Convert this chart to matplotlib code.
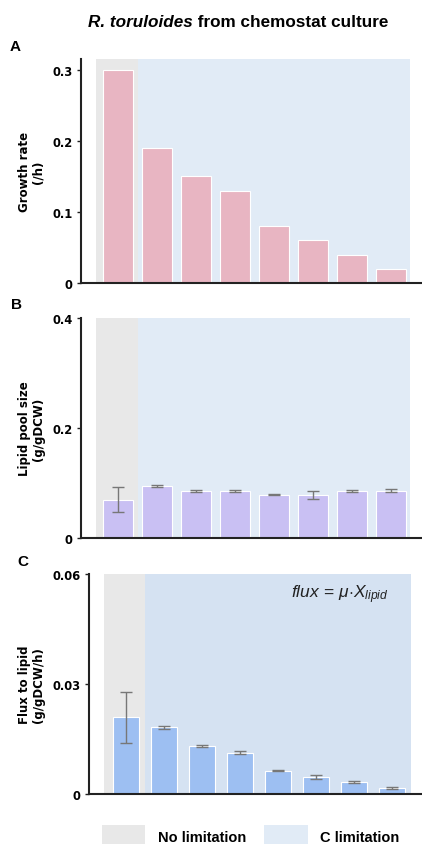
import matplotlib
matplotlib.use("Agg")
import matplotlib.pyplot as plt
from matplotlib import patches
import numpy as np

# data
conditions = np.arange(8)
growth_rate = [0.30, 0.19, 0.15, 0.13, 0.08, 0.06, 0.04, 0.02]
lipid_pool = [0.070, 0.095, 0.086, 0.085, 0.079, 0.078, 0.086, 0.086]
lipid_pool_err = [0.023, 0.002, 0.002, 0.002, 0.001, 0.0075, 0.002, 0.003]
lipid_flux = [0.0209, 0.0182, 0.0130, 0.0112, 0.0064, 0.0047, 0.0033, 0.0016]
lipid_flux_err = [0.0070, 0.0004, 0.0003, 0.0004, 0.0002, 0.0006, 0.0002, 0.0002]

GRAY = "#e8e8e8"
LIGHT_BLUE = "#e1ebf6"
ARIAL = "Liberation Sans"

plt.rcParams["font.family"] = "DejaVu Sans"
plt.rcParams["mathtext.fontset"] = "custom"
plt.rcParams["mathtext.rm"] = ARIAL
plt.rcParams["mathtext.it"] = ARIAL + ":italic"

fig = plt.figure(figsize=(4.22, 8.45), dpi=100)
W, H = 422.0, 845.0


def make_axes(left_px, top_px, bottom_px):
    return fig.add_axes([left_px / W, 1 - bottom_px / H,
                         1 - left_px / W, (bottom_px - top_px) / H])


def style(ax, ylim, yticks, yticklabels, ylabel, label_x, xlim, gray_left,
          blue_color=LIGHT_BLUE):
    ax.set_xlim(*xlim)
    ax.set_ylim(*ylim)
    ax.axvspan(gray_left, 0.5, color=GRAY, zorder=0, lw=0)
    ax.axvspan(0.5, 7.5, color=blue_color, zorder=0, lw=0)
    ax.set_yticks(yticks)
    ax.set_yticklabels(yticklabels, fontsize=8.3, fontweight="bold")
    ax.set_xticks([])
    for side in ("top", "right"):
        ax.spines[side].set_visible(False)
    for side in ("left", "bottom"):
        ax.spines[side].set_linewidth(1.5)
        ax.spines[side].set_color("#222222")
    ax.tick_params(axis="y", length=3, width=1, color="#222222", pad=3)
    ax.set_facecolor("none")
    ax.set_ylabel(ylabel, fontsize=8.5, fontweight="bold", linespacing=1.1)
    ax.yaxis.set_label_coords(label_x, 0.5)


# A: growth rate
axA = make_axes(81, 60, 284)
style(axA, (0, 0.315), [0, 0.1, 0.2, 0.3], ["0", "0.1", "0.2", "0.3"],
      "Growth rate\n(/h)", -0.106, (-0.95, 7.8), -0.56)
axA.bar(conditions, growth_rate, width=0.77, color="#e8b5c2",
        edgecolor="white", linewidth=0.8, zorder=2)

# B: lipid pool size
axB = make_axes(81, 319, 539)
style(axB, (0, 0.4), [0, 0.2, 0.4], ["0", "0.2", "0.4"],
      "Lipid pool size\n(g/gDCW)", -0.106, (-0.95, 7.8), -0.56)
axB.bar(conditions, lipid_pool, width=0.77, color="#c9c0f3",
        edgecolor="white", linewidth=0.8, zorder=2)
axB.errorbar(conditions, lipid_pool, yerr=lipid_pool_err, fmt="none",
             ecolor="#777777", elinewidth=1, capsize=4.5, capthick=1, zorder=3)

# C: flux to lipid
axC = make_axes(89, 575, 795)
style(axC, (0, 0.06), [0, 0.03, 0.06], ["0", "0.03", "0.06"],
      "Flux to lipid\n(g/gDCW/h)", -0.132, (-0.97, 7.8), -0.58,
      blue_color="#d5e2f2")
axC.bar(conditions, lipid_flux, width=0.68, color="#9dbff2",
        edgecolor="white", linewidth=0.8, zorder=2)
axC.errorbar(conditions, lipid_flux, yerr=lipid_flux_err, fmt="none",
             ecolor="#777777", elinewidth=1, capsize=4.5, capthick=1, zorder=3)
axC.text(0.90, 0.91, r"$flux\,=\,\mu{\cdot}X_{lipid}$", transform=axC.transAxes,
         ha="right", va="center", fontsize=12.5, color="#222222")

# title and panel labels
fig.text(193 / W, 1 - 27 / H, "R. toruloides", family=ARIAL, style="italic",
         fontweight="bold", fontsize=12.3, ha="right", va="baseline")
fig.text(193 / W, 1 - 27 / H, " from chemostat culture", family=ARIAL,
         fontweight="bold", fontsize=12.3, ha="left", va="baseline")
for lab, x_px, y_px in [("A", 10, 51), ("B", 11, 309), ("C", 17, 566)]:
    fig.text(x_px / W, 1 - y_px / H, lab, family=ARIAL, fontweight="bold",
             fontsize=11, va="baseline")

# legend at the bottom
for x0, x1, color in [(102, 145, GRAY), (264, 308, LIGHT_BLUE)]:
    fig.add_artist(patches.Rectangle((x0 / W, 0), (x1 - x0) / W, 19 / H,
                                     transform=fig.transFigure,
                                     facecolor=color, edgecolor="none"))
fig.text(158 / W, 3 / H, "No limitation", family=ARIAL, fontweight="bold",
         fontsize=10.5, va="baseline")
fig.text(320 / W, 3 / H, "C limitation", family=ARIAL, fontweight="bold",
         fontsize=10.5, va="baseline")

fig.savefig("out.png", dpi=100)
